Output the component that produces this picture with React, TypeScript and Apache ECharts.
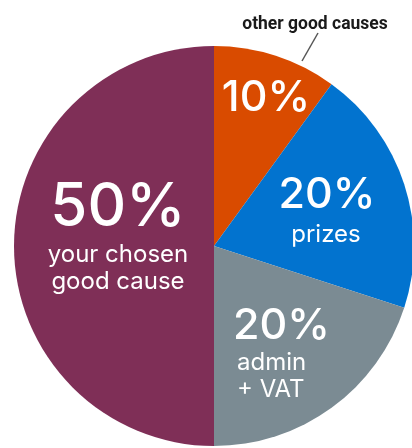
import React, { useEffect, useRef } from "react";
import * as echarts from "echarts";

const categories = ["other good causes", "prizes", "admin\n+ VAT", "your chosen\ngood cause"];
const values = [10, 20, 20, 50];
const colors = ["#D94B00", "#0273CF", "#7B8B93", "#7F2F57"];

export default function App() {
  const ref = useRef<HTMLDivElement>(null);
  useEffect(() => {
    document.body.style.margin = "0";
    const chart = echarts.init(ref.current!, null, { renderer: "svg" });
    const font = "Inter";
    const big = (t: string, x: number, y: number, size: number, align = "center") => ({
      type: "text",
      x,
      y,
      style: {
        text: t,
        fill: "#fff",
        font: `500 ${size}px ${font}`,
        textAlign: align,
        textVerticalAlign: "middle",
        lineHeight: Math.round(size * 0.72),
      },
      z: 10,
    });
    const sub = (t: string, x: number, y: number, size: number, align = "center") => ({
      type: "text",
      x,
      y,
      style: {
        text: t,
        fill: "#fff",
        font: `400 ${size}px ${font}`,
        textAlign: align,
        textVerticalAlign: "middle",
        lineHeight: 27,
      },
      z: 10,
    });
    chart.setOption({
      animation: false,
      series: [
        {
          type: "pie",
          center: [214, 246],
          radius: 200,
          startAngle: 90,
          clockwise: true,
          label: { show: false },
          labelLine: { show: false },
          silent: true,
          data: categories.map((c, i) => ({
            name: c,
            value: values[i],
            itemStyle: { color: colors[i] },
          })),
        },
      ],
      graphic: [
        big(values[0] + "%", 266, 95, 43),
        big(values[1] + "%", 327, 192, 43),
        sub(categories[1], 326, 233, 24),
        big(values[2] + "%", 233, 323, 43, "left"),
        sub(categories[2], 237, 375, 24, "left"),
        big(values[3] + "%", 118, 204, 60),
        sub(categories[3], 118, 267, 24),
        {
          type: "text",
          x: 315,
          y: 23,
          style: {
            text: categories[0],
            fill: "#1a1a1a",
            font: "bold 17.5px Roboto",
            textAlign: "center",
            textVerticalAlign: "middle",
          },
        },
        {
          type: "line",
          shape: { x1: 318, y1: 33, x2: 302, y2: 61 },
          style: { stroke: "#555", lineWidth: 1.5 },
        },
      ],
    });
    return () => chart.dispose();
  }, []);
  return <div ref={ref} style={{ position: "fixed", left: 0, top: 0, width: 412, height: 448 }} />;
}
